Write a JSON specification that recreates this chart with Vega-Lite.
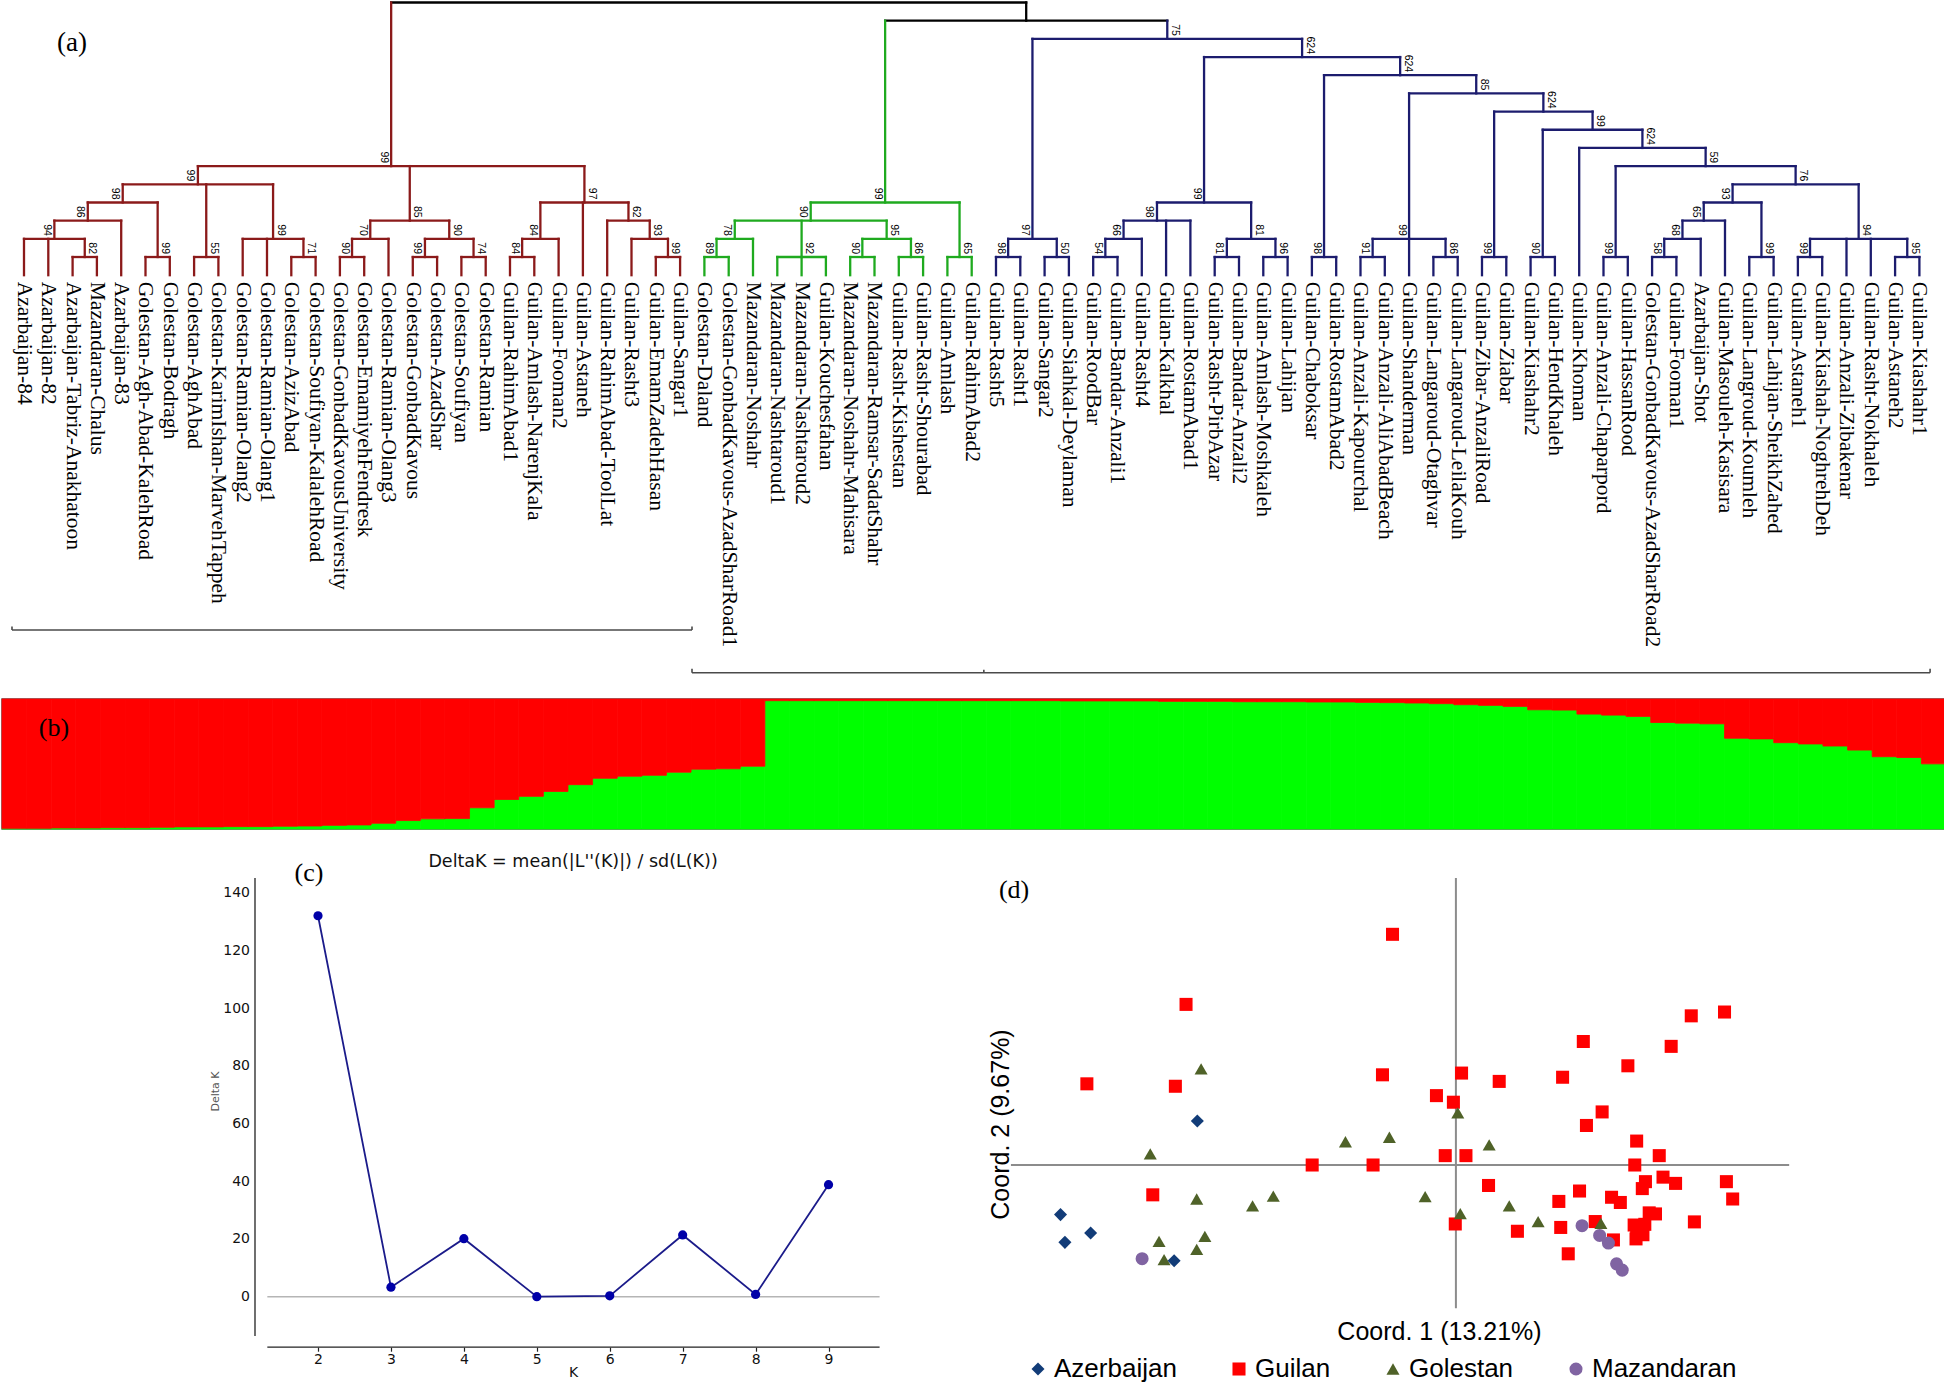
{
"$schema": "https://vega.github.io/schema/vega-lite/v6.json",
"padding": 0,
"background": "white",
"spacing": 0,
"bounds": "flush",
"config": {"view": {"stroke": null}, "concat": {"spacing": 0}, "axis": {"grid": false}},
"datasets": {
"one": [{"t": "x"}],
"leaves": [
{"x":1,"p":2,"c":"r","n":"Azarbaijan-84"},
{"x":2,"p":2,"c":"r","n":"Azarbaijan-82"},
{"x":3,"p":1,"c":"r","n":"Azarbaijan-Tabriz-Anakhatoon"},
{"x":4,"p":1,"c":"r","n":"Mazandaran-Chalus"},
{"x":5,"p":3,"c":"r","n":"Azarbaijan-83"},
{"x":6,"p":1,"c":"r","n":"Golestan-Agh-Abad-KalehRoad"},
{"x":7,"p":1,"c":"r","n":"Golestan-Bodragh"},
{"x":8,"p":1,"c":"r","n":"Golestan-AghAbad"},
{"x":9,"p":1,"c":"r","n":"Golestan-KarimIshan-MarvehTappeh"},
{"x":10,"p":2,"c":"r","n":"Golestan-Ramian-Olang2"},
{"x":11,"p":2,"c":"r","n":"Golestan-Ramian-Olang1"},
{"x":12,"p":1,"c":"r","n":"Golestan-AzizAbad"},
{"x":13,"p":1,"c":"r","n":"Golestan-Soufiyan-KalalehRoad"},
{"x":14,"p":1,"c":"r","n":"Golestan-GonbadKavousUniversity"},
{"x":15,"p":1,"c":"r","n":"Golestan-EmamiyehFendresk"},
{"x":16,"p":2,"c":"r","n":"Golestan-Ramian-Olang3"},
{"x":17,"p":1,"c":"r","n":"Golestan-GonbadKavous"},
{"x":18,"p":1,"c":"r","n":"Golestan-AzadShar"},
{"x":19,"p":1,"c":"r","n":"Golestan-Soufiyan"},
{"x":20,"p":1,"c":"r","n":"Golestan-Ramian"},
{"x":21,"p":1,"c":"r","n":"Guilan-RahimAbad1"},
{"x":22,"p":1,"c":"r","n":"Guilan-Amlash-NarenjKala"},
{"x":23,"p":2,"c":"r","n":"Guilan-Fooman2"},
{"x":24,"p":4,"c":"r","n":"Guilan-Astaneh"},
{"x":25,"p":3,"c":"r","n":"Guilan-RahimAbad-ToolLat"},
{"x":26,"p":2,"c":"r","n":"Guilan-Rasht3"},
{"x":27,"p":1,"c":"r","n":"Guilan-EmamZadehHasan"},
{"x":28,"p":1,"c":"r","n":"Guilan-Sangar1"},
{"x":29,"p":1,"c":"g","n":"Golestan-Daland"},
{"x":30,"p":1,"c":"g","n":"Golestan-GonbadKavous-AzadSharRoad1"},
{"x":31,"p":2,"c":"g","n":"Mazandaran-Noshahr"},
{"x":32,"p":1,"c":"g","n":"Mazandaran-Nashtaroud1"},
{"x":33,"p":1,"c":"g","n":"Mazandaran-Nashtaroud2"},
{"x":34,"p":1,"c":"g","n":"Guilan-Kouchesfahan"},
{"x":35,"p":1,"c":"g","n":"Mazandaran-Noshahr-Mahisara"},
{"x":36,"p":1,"c":"g","n":"Mazandaran-Ramsar-SadatShahr"},
{"x":37,"p":1,"c":"g","n":"Guilan-Rasht-Kishestan"},
{"x":38,"p":1,"c":"g","n":"Guilan-Rasht-Shourabad"},
{"x":39,"p":1,"c":"g","n":"Guilan-Amlash"},
{"x":40,"p":1,"c":"g","n":"Guilan-RahimAbad2"},
{"x":41,"p":1,"c":"u","n":"Guilan-Rasht5"},
{"x":42,"p":1,"c":"u","n":"Guilan-Rasht1"},
{"x":43,"p":1,"c":"u","n":"Guilan-Sangar2"},
{"x":44,"p":1,"c":"u","n":"Guilan-Siahkal-Deylaman"},
{"x":45,"p":1,"c":"u","n":"Guilan-RoodBar"},
{"x":46,"p":1,"c":"u","n":"Guilan-Bandar-Anzali1"},
{"x":47,"p":2,"c":"u","n":"Guilan-Rasht4"},
{"x":48,"p":3,"c":"u","n":"Guilan-Kalkhal"},
{"x":49,"p":3,"c":"u","n":"Guilan-RostamAbad1"},
{"x":50,"p":1,"c":"u","n":"Guilan-Rasht-PirbAzar"},
{"x":51,"p":1,"c":"u","n":"Guilan-Bandar-Anzali2"},
{"x":52,"p":1,"c":"u","n":"Guilan-Amlash-Moshkaleh"},
{"x":53,"p":1,"c":"u","n":"Guilan-Lahijan"},
{"x":54,"p":1,"c":"u","n":"Guilan-Chaboksar"},
{"x":55,"p":1,"c":"u","n":"Guilan-RostamAbad2"},
{"x":56,"p":1,"c":"u","n":"Guilan-Anzali-Kapourchal"},
{"x":57,"p":1,"c":"u","n":"Guilan-Anzali-AliAbadBeach"},
{"x":58,"p":2,"c":"u","n":"Guilan-Shanderman"},
{"x":59,"p":1,"c":"u","n":"Guilan-Langaroud-Otaghvar"},
{"x":60,"p":1,"c":"u","n":"Guilan-Langaroud-LeilaKouh"},
{"x":61,"p":1,"c":"u","n":"Guilan-Zibar-AnzaliRoad"},
{"x":62,"p":1,"c":"u","n":"Guilan-Ziabar"},
{"x":63,"p":1,"c":"u","n":"Guilan-Kiashahr2"},
{"x":64,"p":1,"c":"u","n":"Guilan-HendKhaleh"},
{"x":65,"p":7,"c":"u","n":"Guilan-Khoman"},
{"x":66,"p":1,"c":"u","n":"Guilan-Anzali-Chaparpord"},
{"x":67,"p":1,"c":"u","n":"Guilan-HassanRood"},
{"x":68,"p":1,"c":"u","n":"Golestan-GonbadKavous-AzadSharRoad2"},
{"x":69,"p":1,"c":"u","n":"Guilan-Fooman1"},
{"x":70,"p":2,"c":"u","n":"Azarbaijan-Shot"},
{"x":71,"p":3,"c":"u","n":"Guilan-Masouleh-Kasisara"},
{"x":72,"p":1,"c":"u","n":"Guilan-Langroud-Koumleh"},
{"x":73,"p":1,"c":"u","n":"Guilan-Lahijan-SheikhZahed"},
{"x":74,"p":1,"c":"u","n":"Guilan-Astaneh1"},
{"x":75,"p":1,"c":"u","n":"Guilan-Kiashah-NoghrehDeh"},
{"x":76,"p":2,"c":"u","n":"Guilan-Anzali-Zibakenar"},
{"x":77,"p":2,"c":"u","n":"Guilan-Rasht-Nokhaleh"},
{"x":78,"p":1,"c":"u","n":"Guilan-Astaneh2"},
{"x":79,"p":1,"c":"u","n":"Guilan-Kiashahr1"}
],
"nodes": [
{"x":3.5,"h":1,"p":2,"c":"r","b":"82","s":"R"},
{"x":2.25,"h":2,"p":3,"c":"r","b":"94","s":"L"},
{"x":3.625,"h":3,"p":4,"c":"r","b":"86","s":"L"},
{"x":6.5,"h":1,"p":4,"c":"r","b":"99","s":"R"},
{"x":5.0625,"h":4,"p":5,"c":"r","b":"98","s":"L"},
{"x":8.5,"h":1,"p":5,"c":"r","b":"55","s":"R"},
{"x":12.5,"h":1,"p":2,"c":"r","b":"71","s":"R"},
{"x":11.25,"h":2,"p":5,"c":"r","b":"99","s":"R"},
{"x":8.15625,"h":5,"p":6,"c":"r","b":"99","s":"L"},
{"x":14.5,"h":1,"p":2,"c":"r","b":"90","s":"L"},
{"x":15.25,"h":2,"p":3,"c":"r","b":"70","s":"L"},
{"x":17.5,"h":1,"p":2,"c":"r","b":"99","s":"L"},
{"x":19.5,"h":1,"p":2,"c":"r","b":"74","s":"R"},
{"x":18.5,"h":2,"p":3,"c":"r","b":"90","s":"R"},
{"x":16.875,"h":3,"p":6,"c":"r","b":"85","s":"R"},
{"x":21.5,"h":1,"p":2,"c":"r","b":"84","s":"L"},
{"x":22.25,"h":2,"p":4,"c":"r","b":"84","s":"L"},
{"x":27.5,"h":1,"p":2,"c":"r","b":"99","s":"R"},
{"x":26.75,"h":2,"p":3,"c":"r","b":"93","s":"R"},
{"x":25.875,"h":3,"p":4,"c":"r","b":"62","s":"R"},
{"x":24.0625,"h":4,"p":6,"c":"r","b":"97","s":"R"},
{"x":16.109375,"h":6,"p":15,"c":"r","b":"99","s":"L"},
{"x":29.5,"h":1,"p":2,"c":"g","b":"89","s":"L"},
{"x":30.25,"h":2,"p":3,"c":"g","b":"78","s":"L"},
{"x":33,"h":1,"p":3,"c":"g","b":"92","s":"R"},
{"x":35.5,"h":1,"p":2,"c":"g","b":"90","s":"L"},
{"x":37.5,"h":1,"p":2,"c":"g","b":"86","s":"R"},
{"x":36.5,"h":2,"p":3,"c":"g","b":"95","s":"R"},
{"x":33.375,"h":3,"p":4,"c":"g","b":"90","s":"L"},
{"x":39.5,"h":1,"p":4,"c":"g","b":"65","s":"R"},
{"x":36.4375,"h":4,"p":14,"c":"g","b":"99","s":"L"},
{"x":41.5,"h":1,"p":2,"c":"u","b":"98","s":"L"},
{"x":43.5,"h":1,"p":2,"c":"u","b":"50","s":"R"},
{"x":42.5,"h":2,"p":13,"c":"u","b":"97","s":"L"},
{"x":45.5,"h":1,"p":2,"c":"u","b":"54","s":"L"},
{"x":46.25,"h":2,"p":3,"c":"u","b":"66","s":"L"},
{"x":47.625,"h":3,"p":4,"c":"u","b":"98","s":"L"},
{"x":50.5,"h":1,"p":2,"c":"u","b":"81","s":"L"},
{"x":52.5,"h":1,"p":2,"c":"u","b":"96","s":"R"},
{"x":51.5,"h":2,"p":4,"c":"u","b":"81","s":"R"},
{"x":49.5625,"h":4,"p":12,"c":"u","b":"99","s":"L"},
{"x":54.5,"h":1,"p":11,"c":"u","b":"98","s":"L"},
{"x":56.5,"h":1,"p":2,"c":"u","b":"91","s":"L"},
{"x":59.5,"h":1,"p":2,"c":"u","b":"86","s":"R"},
{"x":58,"h":2,"p":10,"c":"u","b":"99","s":"L"},
{"x":61.5,"h":1,"p":9,"c":"u","b":"99","s":"L"},
{"x":63.5,"h":1,"p":8,"c":"u","b":"90","s":"L"},
{"x":66.5,"h":1,"p":6,"c":"u","b":"99","s":"L"},
{"x":68.5,"h":1,"p":2,"c":"u","b":"58","s":"L"},
{"x":69.25,"h":2,"p":3,"c":"u","b":"68","s":"L"},
{"x":70.125,"h":3,"p":4,"c":"u","b":"65","s":"L"},
{"x":72.5,"h":1,"p":4,"c":"u","b":"99","s":"R"},
{"x":71.3125,"h":4,"p":5,"c":"u","b":"93","s":"L"},
{"x":74.5,"h":1,"p":2,"c":"u","b":"99","s":"L"},
{"x":78.5,"h":1,"p":2,"c":"u","b":"95","s":"R"},
{"x":76.5,"h":2,"p":5,"c":"u","b":"94","s":"R"},
{"x":73.90625,"h":5,"p":6,"c":"u","b":"76","s":"R"},
{"x":70.203125,"h":6,"p":7,"c":"u","b":"59","s":"R"},
{"x":67.6015625,"h":7,"p":8,"c":"u","b":"624","s":"R"},
{"x":65.55078125,"h":8,"p":9,"c":"u","b":"99","s":"R"},
{"x":63.525390625,"h":9,"p":10,"c":"u","b":"624","s":"R"},
{"x":60.7626953125,"h":10,"p":11,"c":"u","b":"85","s":"R"},
{"x":57.63134765625,"h":11,"p":12,"c":"u","b":"624","s":"R"},
{"x":53.596923828125,"h":12,"p":13,"c":"u","b":"624","s":"R"},
{"x":48.0484619140625,"h":13,"p":14,"c":"u","b":"75","s":"R"},
{"x":42.24298095703125,"h":14,"p":15,"c":"k"}
],
"bars": [
{"x":3,"xe":4,"h":1,"c":"r"},
{"x":1,"xe":3.5,"h":2,"c":"r"},
{"x":2.25,"xe":5,"h":3,"c":"r"},
{"x":6,"xe":7,"h":1,"c":"r"},
{"x":3.625,"xe":6.5,"h":4,"c":"r"},
{"x":8,"xe":9,"h":1,"c":"r"},
{"x":12,"xe":13,"h":1,"c":"r"},
{"x":10,"xe":12.5,"h":2,"c":"r"},
{"x":5.0625,"xe":11.25,"h":5,"c":"r"},
{"x":14,"xe":15,"h":1,"c":"r"},
{"x":14.5,"xe":16,"h":2,"c":"r"},
{"x":17,"xe":18,"h":1,"c":"r"},
{"x":19,"xe":20,"h":1,"c":"r"},
{"x":17.5,"xe":19.5,"h":2,"c":"r"},
{"x":15.25,"xe":18.5,"h":3,"c":"r"},
{"x":21,"xe":22,"h":1,"c":"r"},
{"x":21.5,"xe":23,"h":2,"c":"r"},
{"x":27,"xe":28,"h":1,"c":"r"},
{"x":26,"xe":27.5,"h":2,"c":"r"},
{"x":25,"xe":26.75,"h":3,"c":"r"},
{"x":22.25,"xe":25.875,"h":4,"c":"r"},
{"x":8.15625,"xe":24.0625,"h":6,"c":"r"},
{"x":29,"xe":30,"h":1,"c":"g"},
{"x":29.5,"xe":31,"h":2,"c":"g"},
{"x":32,"xe":34,"h":1,"c":"g"},
{"x":35,"xe":36,"h":1,"c":"g"},
{"x":37,"xe":38,"h":1,"c":"g"},
{"x":35.5,"xe":37.5,"h":2,"c":"g"},
{"x":30.25,"xe":36.5,"h":3,"c":"g"},
{"x":39,"xe":40,"h":1,"c":"g"},
{"x":33.375,"xe":39.5,"h":4,"c":"g"},
{"x":41,"xe":42,"h":1,"c":"u"},
{"x":43,"xe":44,"h":1,"c":"u"},
{"x":41.5,"xe":43.5,"h":2,"c":"u"},
{"x":45,"xe":46,"h":1,"c":"u"},
{"x":45.5,"xe":47,"h":2,"c":"u"},
{"x":46.25,"xe":49,"h":3,"c":"u"},
{"x":50,"xe":51,"h":1,"c":"u"},
{"x":52,"xe":53,"h":1,"c":"u"},
{"x":50.5,"xe":52.5,"h":2,"c":"u"},
{"x":47.625,"xe":51.5,"h":4,"c":"u"},
{"x":54,"xe":55,"h":1,"c":"u"},
{"x":56,"xe":57,"h":1,"c":"u"},
{"x":59,"xe":60,"h":1,"c":"u"},
{"x":56.5,"xe":59.5,"h":2,"c":"u"},
{"x":61,"xe":62,"h":1,"c":"u"},
{"x":63,"xe":64,"h":1,"c":"u"},
{"x":66,"xe":67,"h":1,"c":"u"},
{"x":68,"xe":69,"h":1,"c":"u"},
{"x":68.5,"xe":70,"h":2,"c":"u"},
{"x":69.25,"xe":71,"h":3,"c":"u"},
{"x":72,"xe":73,"h":1,"c":"u"},
{"x":70.125,"xe":72.5,"h":4,"c":"u"},
{"x":74,"xe":75,"h":1,"c":"u"},
{"x":78,"xe":79,"h":1,"c":"u"},
{"x":74.5,"xe":78.5,"h":2,"c":"u"},
{"x":71.3125,"xe":76.5,"h":5,"c":"u"},
{"x":66.5,"xe":73.90625,"h":6,"c":"u"},
{"x":65,"xe":70.203125,"h":7,"c":"u"},
{"x":63.5,"xe":67.6015625,"h":8,"c":"u"},
{"x":61.5,"xe":65.55078125,"h":9,"c":"u"},
{"x":58,"xe":63.525390625,"h":10,"c":"u"},
{"x":54.5,"xe":60.7626953125,"h":11,"c":"u"},
{"x":49.5625,"xe":57.63134765625,"h":12,"c":"u"},
{"x":42.5,"xe":53.596923828125,"h":13,"c":"u"},
{"x":36.4375,"xe":48.0484619140625,"h":14,"c":"k"},
{"x":16.109375,"xe":42.24298095703125,"h":15,"c":"k"}
],
"brackets": [
{"x":0.506,"xe":28.49,"h":-19.516,"he":-19.516},
{"x":0.506,"xe":0.506,"h":-19.516,"he":-19.33},
{"x":28.49,"xe":28.49,"h":-19.516,"he":-19.33},
{"x":28.49,"xe":79.44,"h":-21.865,"he":-21.865},
{"x":28.49,"xe":28.49,"h":-21.865,"he":-21.65},
{"x":40.5,"xe":40.5,"h":-21.865,"he":-21.7},
{"x":79.44,"xe":79.44,"h":-21.865,"he":-21.65}
],
"structure": [
{"k":1,"g":0.005},{"k":2,"g":0.005},{"k":3,"g":0.008},{"k":4,"g":0.008},{"k":5,"g":0.010},{"k":6,"g":0.010},{"k":7,"g":0.013},{"k":8,"g":0.016},{"k":9,"g":0.016},{"k":10,"g":0.018},
{"k":11,"g":0.018},{"k":12,"g":0.021},{"k":13,"g":0.023},{"k":14,"g":0.028},{"k":15,"g":0.031},{"k":16,"g":0.044},{"k":17,"g":0.065},{"k":18,"g":0.078},{"k":19,"g":0.080},{"k":20,"g":0.163},
{"k":21,"g":0.227},{"k":22,"g":0.251},{"k":23,"g":0.289},{"k":24,"g":0.341},{"k":25,"g":0.390},{"k":26,"g":0.406},{"k":27,"g":0.413},{"k":28,"g":0.437},{"k":29,"g":0.460},{"k":30,"g":0.463},
{"k":31,"g":0.483},{"k":32,"g":0.987},{"k":33,"g":0.987},{"k":34,"g":0.987},{"k":35,"g":0.987},{"k":36,"g":0.987},{"k":37,"g":0.987},{"k":38,"g":0.987},{"k":39,"g":0.987},{"k":40,"g":0.987},
{"k":41,"g":0.987},{"k":42,"g":0.987},{"k":43,"g":0.987},{"k":44,"g":0.985},{"k":45,"g":0.985},{"k":46,"g":0.985},{"k":47,"g":0.985},{"k":48,"g":0.982},{"k":49,"g":0.982},{"k":50,"g":0.982},
{"k":51,"g":0.979},{"k":52,"g":0.979},{"k":53,"g":0.979},{"k":54,"g":0.977},{"k":55,"g":0.977},{"k":56,"g":0.974},{"k":57,"g":0.972},{"k":58,"g":0.969},{"k":59,"g":0.964},{"k":60,"g":0.956},
{"k":61,"g":0.951},{"k":62,"g":0.943},{"k":63,"g":0.917},{"k":64,"g":0.915},{"k":65,"g":0.884},{"k":66,"g":0.876},{"k":67,"g":0.866},{"k":68,"g":0.819},{"k":69,"g":0.814},{"k":70,"g":0.809},
{"k":71,"g":0.698},{"k":72,"g":0.693},{"k":73,"g":0.664},{"k":74,"g":0.654},{"k":75,"g":0.638},{"k":76,"g":0.607},{"k":77,"g":0.556},{"k":78,"g":0.550},{"k":79,"g":0.501}
],
"deltak": [
{"K":2,"dk":132.0},{"K":3,"dk":3.3},{"K":4,"dk":20.1},{"K":5,"dk":0.0},{"K":6,"dk":0.3},{"K":7,"dk":21.4},{"K":8,"dk":0.8},{"K":9,"dk":38.8}
],
"pcoa": [
{"r":"Guilan","c1":-1.01,"c2":6.65},{"r":"Guilan","c1":-4.30,"c2":4.63},{"r":"Guilan","c1":4.28,"c2":4.41},{"r":"Guilan","c1":3.75,"c2":4.30},{"r":"Guilan","c1":2.03,"c2":3.56},
{"r":"Guilan","c1":3.43,"c2":3.42},{"r":"Guilan","c1":2.74,"c2":2.86},{"r":"Guilan","c1":-5.88,"c2":2.34},{"r":"Guilan","c1":-4.47,"c2":2.27},{"r":"Guilan","c1":-1.17,"c2":2.60},
{"r":"Guilan","c1":0.09,"c2":2.65},{"r":"Guilan","c1":0.69,"c2":2.41},{"r":"Guilan","c1":1.70,"c2":2.53},{"r":"Guilan","c1":-0.31,"c2":2.00},{"r":"Guilan","c1":-0.04,"c2":1.81},
{"r":"Guilan","c1":2.33,"c2":1.53},{"r":"Guilan","c1":2.08,"c2":1.14},{"r":"Guilan","c1":2.88,"c2":0.69},{"r":"Guilan","c1":3.24,"c2":0.27},{"r":"Guilan","c1":-0.17,"c2":0.27},
{"r":"Guilan","c1":0.16,"c2":0.27},{"r":"Guilan","c1":-2.29,"c2":0.00},{"r":"Guilan","c1":-1.32,"c2":0.00},{"r":"Guilan","c1":2.85,"c2":0.00},{"r":"Guilan","c1":3.02,"c2":-0.48},
{"r":"Guilan","c1":3.30,"c2":-0.35},{"r":"Guilan","c1":3.50,"c2":-0.53},{"r":"Guilan","c1":4.31,"c2":-0.48},{"r":"Guilan","c1":2.97,"c2":-0.68},{"r":"Guilan","c1":0.52,"c2":-0.59},
{"r":"Guilan","c1":1.97,"c2":-0.75},{"r":"Guilan","c1":2.48,"c2":-0.93},{"r":"Guilan","c1":2.62,"c2":-1.08},{"r":"Guilan","c1":1.64,"c2":-1.05},{"r":"Guilan","c1":4.41,"c2":-0.98},
{"r":"Guilan","c1":-4.83,"c2":-0.86},{"r":"Guilan","c1":3.08,"c2":-1.38},{"r":"Guilan","c1":3.18,"c2":-1.41},{"r":"Guilan","c1":3.80,"c2":-1.64},{"r":"Guilan","c1":2.22,"c2":-1.63},
{"r":"Guilan","c1":-0.01,"c2":-1.70},{"r":"Guilan","c1":0.98,"c2":-1.91},{"r":"Guilan","c1":1.67,"c2":-1.80},{"r":"Guilan","c1":2.84,"c2":-1.73},{"r":"Guilan","c1":3.01,"c2":-1.71},
{"r":"Guilan","c1":2.88,"c2":-1.98},{"r":"Guilan","c1":2.98,"c2":-2.01},{"r":"Guilan","c1":2.51,"c2":-2.16},{"r":"Guilan","c1":2.87,"c2":-2.13},{"r":"Guilan","c1":1.79,"c2":-2.56},
{"r":"Golestan","c1":-4.06,"c2":2.77},{"r":"Golestan","c1":0.03,"c2":1.50},{"r":"Golestan","c1":-1.76,"c2":0.67},{"r":"Golestan","c1":-1.06,"c2":0.80},{"r":"Golestan","c1":0.53,"c2":0.58},
{"r":"Golestan","c1":-4.87,"c2":0.32},{"r":"Golestan","c1":-4.13,"c2":-0.98},{"r":"Golestan","c1":-2.91,"c2":-0.90},{"r":"Golestan","c1":-3.24,"c2":-1.18},{"r":"Golestan","c1":-0.49,"c2":-0.91},
{"r":"Golestan","c1":0.85,"c2":-1.18},{"r":"Golestan","c1":0.07,"c2":-1.40},{"r":"Golestan","c1":1.31,"c2":-1.63},{"r":"Golestan","c1":2.31,"c2":-1.68},{"r":"Golestan","c1":-4.73,"c2":-2.20},
{"r":"Golestan","c1":-4.00,"c2":-2.06},{"r":"Golestan","c1":-4.13,"c2":-2.43},{"r":"Golestan","c1":-4.65,"c2":-2.73},
{"r":"Azerbaijan","c1":-4.12,"c2":1.27},{"r":"Azerbaijan","c1":-6.30,"c2":-1.43},{"r":"Azerbaijan","c1":-5.82,"c2":-1.96},{"r":"Azerbaijan","c1":-6.23,"c2":-2.23},{"r":"Azerbaijan","c1":-4.49,"c2":-2.76},
{"r":"Mazandaran","c1":-5.00,"c2":-2.70},{"r":"Mazandaran","c1":2.01,"c2":-1.75},{"r":"Mazandaran","c1":2.29,"c2":-2.03},{"r":"Mazandaran","c1":2.43,"c2":-2.25},{"r":"Mazandaran","c1":2.56,"c2":-2.85},{"r":"Mazandaran","c1":2.65,"c2":-3.03}
]
},
"vconcat": [
{
 "width": 1944, "height": 699,
 "layer": [
  {"data": {"name": "bars"}, "mark": {"type": "rule", "strokeWidth": 2.3, "strokeCap": "square"},
   "encoding": {
    "x": {"field": "x", "type": "quantitative", "scale": {"domain": [0.0947, 80.095], "nice": false, "zero": false}, "axis": null},
    "x2": {"field": "xe"},
    "y": {"field": "h", "type": "quantitative", "scale": {"domain": [-23.311, 15.137], "nice": false, "zero": false}, "axis": null},
    "stroke": {"field": "c", "type": "nominal", "scale": {"domain": ["r","g","u","k"], "range": ["#8b1a1a","#1faa1f","#1c1c6e","#000000"]}, "legend": null}}},
  {"data": {"name": "nodes"}, "mark": {"type": "rule", "strokeWidth": 2.3, "strokeCap": "square"},
   "encoding": {
    "x": {"field": "x", "type": "quantitative"},
    "y": {"field": "h", "type": "quantitative"},
    "y2": {"field": "p"},
    "stroke": {"field": "c", "type": "nominal", "legend": null}}},
  {"data": {"name": "leaves"}, "mark": {"type": "rule", "strokeWidth": 2.3, "strokeCap": "square"},
   "encoding": {
    "x": {"field": "x", "type": "quantitative"},
    "y": {"field": "p", "type": "quantitative"},
    "y2": {"datum": 0},
    "stroke": {"field": "c", "type": "nominal", "legend": null}}},
  {"data": {"name": "leaves"}, "mark": {"type": "text", "angle": 90, "align": "left", "baseline": "middle", "font": "Liberation Serif", "fontSize": 21.5, "color": "black"},
   "encoding": {
    "x": {"field": "x", "type": "quantitative"},
    "y": {"datum": -0.36, "type": "quantitative"},
    "text": {"field": "n"}}},
  {"data": {"name": "nodes"}, "transform": [{"filter": "datum.s === 'L'"}], "mark": {"type": "text", "angle": 90, "align": "right", "baseline": "middle", "dx": -3, "dy": 7.5, "font": "Liberation Sans Narrow, Liberation Sans, sans-serif", "fontSize": 10.5, "color": "black"},
   "encoding": {
    "x": {"field": "x", "type": "quantitative"},
    "y": {"field": "h", "type": "quantitative"},
    "text": {"field": "b"}}},
  {"data": {"name": "nodes"}, "transform": [{"filter": "datum.s === 'R'"}], "mark": {"type": "text", "angle": 90, "align": "right", "baseline": "middle", "dx": -3, "dy": -7.5, "font": "Liberation Sans Narrow, Liberation Sans, sans-serif", "fontSize": 10.5, "color": "black"},
   "encoding": {
    "x": {"field": "x", "type": "quantitative"},
    "y": {"field": "h", "type": "quantitative"},
    "text": {"field": "b"}}},
  {"data": {"name": "brackets"}, "mark": {"type": "rule", "strokeWidth": 1.6, "color": "#4a4a4a"},
   "encoding": {
    "x": {"field": "x", "type": "quantitative"},
    "x2": {"field": "xe"},
    "y": {"field": "h", "type": "quantitative"},
    "y2": {"field": "he"}}},
  {"data": {"name": "one"}, "mark": {"type": "text", "font": "Liberation Serif", "fontSize": 27, "align": "center", "baseline": "middle", "color": "black"},
   "encoding": {
    "x": {"datum": 2.975, "type": "quantitative"},
    "y": {"datum": 12.77, "type": "quantitative"},
    "text": {"value": "(a)"}}}
 ]
},
{
 "width": 1944, "height": 130,
 "view": {"stroke": "#555555", "strokeWidth": 1.5},
 "layer": [
  {"data": {"name": "structure"}, "mark": {"type": "bar", "color": "#00ff00", "stroke": "#00ff00", "strokeWidth": 0.8},
   "encoding": {
    "x": {"field": "k", "type": "ordinal", "scale": {"paddingInner": 0, "paddingOuter": 0}, "axis": null},
    "y": {"field": "g", "type": "quantitative", "scale": {"domain": [0, 1], "nice": false, "zero": false}, "axis": null},
    "y2": {"datum": 0}}},
  {"data": {"name": "structure"}, "mark": {"type": "bar", "color": "#ff0000", "stroke": "#ff0000", "strokeWidth": 0.8},
   "encoding": {
    "x": {"field": "k", "type": "ordinal"},
    "y": {"field": "g", "type": "quantitative"},
    "y2": {"datum": 1}}},
  {"data": {"name": "structure"}, "transform": [{"filter": "datum.k === 2"}], "mark": {"type": "text", "font": "Liberation Serif", "fontSize": 26, "dx": 15, "align": "center", "baseline": "middle", "color": "black"},
   "encoding": {
    "x": {"field": "k", "type": "ordinal"},
    "y": {"datum": 0.777, "type": "quantitative"},
    "text": {"value": "(b)"}}}
 ]
},
{
 "hconcat": [
  {
   "width": 1009, "height": 555,
   "layer": [
    {"data": {"name": "one"}, "mark": {"type": "rule", "color": "#b5b5b5", "strokeWidth": 1.5},
     "encoding": {
      "x": {"datum": 1.305, "type": "quantitative", "scale": {"domain": [-2.333, 11.502], "nice": false, "zero": false}},
      "x2": {"datum": 9.70},
      "y": {"datum": 0, "type": "quantitative", "scale": {"domain": [-30.25, 162.06], "nice": false, "zero": false}}
     }},
    {"data": {"name": "deltak"}, "mark": {"type": "line", "color": "#1b1b8a", "strokeWidth": 1.8},
     "encoding": {
      "x": {"field": "K", "type": "quantitative",
            "axis": {"orient": "bottom", "offset": -36.8, "domain": false, "grid": false, "values": [2,3,4,5,6,7,8,9], "format": "d", "tickSize": 4, "tickColor": "#222222", "tickWidth": 1.2, "labelPadding": 1, "labelFont": "DejaVu Sans", "labelFontSize": 14, "labelColor": "#111111", "title": "K", "titleFont": "DejaVu Sans", "titleFontSize": 14, "titleFontWeight": "normal", "titleColor": "#111111", "titleX": 571, "titleY": 25.3, "titleBaseline": "middle", "titleAlign": "center"}},
      "y": {"field": "dk", "type": "quantitative",
            "axis": {"orient": "left", "offset": -253, "domain": false, "grid": false, "ticks": false, "values": [0,20,40,60,80,100,120,140], "format": "d", "labelPadding": 5.5, "labelFont": "DejaVu Sans", "labelFontSize": 14, "labelColor": "#111111", "title": "Delta K", "titleFont": "DejaVu Sans", "titleFontSize": 11, "titleFontWeight": "normal", "titleColor": "#555555", "titleX": -40, "titleY": 262, "titleAngle": -90, "titleAlign": "center", "titleBaseline": "middle"}}
     }},
    {"data": {"name": "one"}, "mark": {"type": "rule", "color": "#222222", "strokeWidth": 1.3},
     "encoding": {"x": {"datum": 1.136, "type": "quantitative"}, "y": {"datum": -13.6, "type": "quantitative"}, "y2": {"datum": 145.1}}},
    {"data": {"name": "one"}, "mark": {"type": "rule", "color": "#222222", "strokeWidth": 1.3},
     "encoding": {"x": {"datum": 1.305, "type": "quantitative"}, "x2": {"datum": 9.70}, "y": {"datum": -17.5, "type": "quantitative"}}},
    {"data": {"name": "deltak"}, "mark": {"type": "circle", "size": 85, "color": "#0000a8", "opacity": 1},
     "encoding": {"x": {"field": "K", "type": "quantitative"}, "y": {"field": "dk", "type": "quantitative"}}},
    {"data": {"name": "one"}, "mark": {"type": "text", "font": "DejaVu Sans", "fontSize": 17.5, "color": "#111111", "align": "center", "baseline": "middle"},
     "encoding": {"x": {"datum": 5.497, "type": "quantitative"}, "y": {"datum": 150.7, "type": "quantitative"}, "text": {"value": "DeltaK = mean(|L''(K)|) / sd(L(K))"}}},
    {"data": {"name": "one"}, "mark": {"type": "text", "font": "Liberation Serif", "fontSize": 26, "color": "black", "align": "center", "baseline": "middle"},
     "encoding": {"x": {"datum": 1.877, "type": "quantitative"}, "y": {"datum": 146.8, "type": "quantitative"}, "text": {"value": "(c)"}}}
   ]
  },
  {
   "width": 935, "height": 555,
   "layer": [
    {"data": {"name": "one"}, "mark": {"type": "rule", "color": "#8c8c8c", "strokeWidth": 2},
     "encoding": {
      "x": {"datum": 0, "type": "quantitative", "scale": {"domain": [-7.089, 7.809], "nice": false, "zero": false},
            "axis": {"orient": "bottom", "domain": false, "ticks": false, "labels": false, "grid": false, "title": "Coord. 1 (13.21%)", "titleFont": "Liberation Sans", "titleFontSize": 25, "titleFontWeight": "normal", "titleColor": "black", "titleX": 428, "titleY": -53, "titleBaseline": "middle", "titleAlign": "center"}},
      "y": {"datum": -4.13, "type": "quantitative", "scale": {"domain": [-6.313, 9.686], "nice": false, "zero": false},
            "axis": {"orient": "left", "domain": false, "ticks": false, "labels": false, "grid": false, "title": "Coord. 2 (9.67%)", "titleFont": "Liberation Sans", "titleFontSize": 25, "titleFontWeight": "normal", "titleColor": "black", "titleX": -11, "titleY": 295, "titleAngle": -90, "titleBaseline": "middle", "titleAlign": "center"}},
      "y2": {"datum": 8.27}
     }},
    {"data": {"name": "one"}, "mark": {"type": "rule", "color": "#8c8c8c", "strokeWidth": 2},
     "encoding": {"x": {"datum": -7.09, "type": "quantitative"}, "x2": {"datum": 5.31}, "y": {"datum": 0, "type": "quantitative"}}},
    {"data": {"name": "pcoa"}, "mark": {"type": "point", "filled": true, "opacity": 1, "size": 170, "strokeWidth": 0},
     "encoding": {
      "x": {"field": "c1", "type": "quantitative"},
      "y": {"field": "c2", "type": "quantitative"},
      "color": {"field": "r", "type": "nominal", "scale": {"domain": ["Azerbaijan","Guilan","Golestan","Mazandaran"], "range": ["#123c78","#ff0000","#4f6228","#8064a2"]},
                "legend": {"title": null, "orient": "none", "legendX": 1023, "legendY": 1356, "direction": "horizontal", "labelFont": "Liberation Sans", "labelFontSize": 26, "labelColor": "black", "symbolSize": 170, "columnPadding": 49, "labelOffset": 3, "padding": 0, "labelLimit": 300}},
      "shape": {"field": "r", "type": "nominal", "scale": {"domain": ["Azerbaijan","Guilan","Golestan","Mazandaran"], "range": ["diamond","square","triangle-up","circle"]},
                "legend": {"title": null, "orient": "none", "legendX": 1023, "legendY": 1356, "direction": "horizontal", "labelFont": "Liberation Sans", "labelFontSize": 26, "labelColor": "black", "symbolSize": 170, "columnPadding": 49, "labelOffset": 3, "padding": 0, "labelLimit": 300}}
     }},
    {"data": {"name": "one"}, "mark": {"type": "text", "font": "Liberation Serif", "fontSize": 26, "color": "black", "align": "center", "baseline": "middle"},
     "encoding": {"x": {"datum": -7.04, "type": "quantitative"}, "y": {"datum": 7.92, "type": "quantitative"}, "text": {"value": "(d)"}}}
   ]
  }
 ],
 "spacing": 0,
 "bounds": "flush"
}
]
}
